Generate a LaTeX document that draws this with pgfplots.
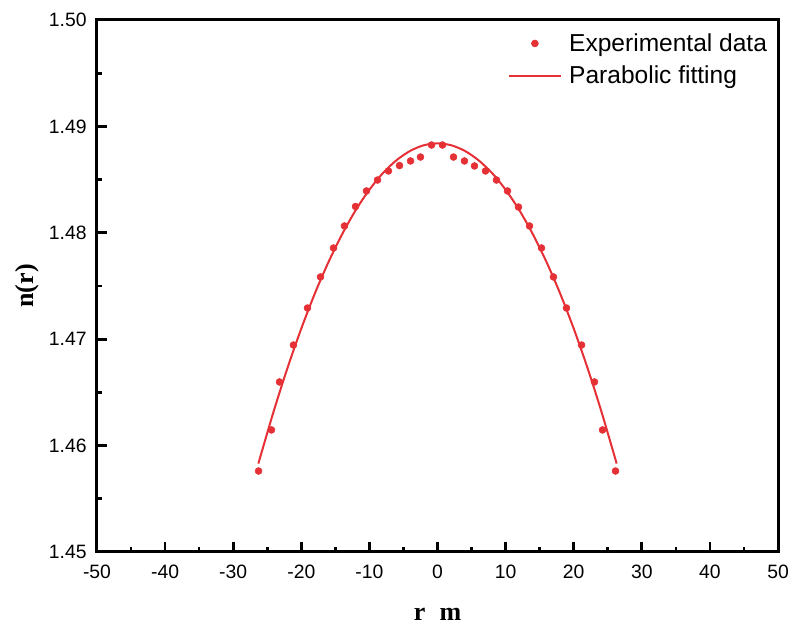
\documentclass[border=0pt]{standalone}
\usepackage{pgfplots}
\pgfplotsset{compat=1.18}
\usepackage{fontspec}
\setmainfont{Liberation Sans}
\newfontfamily\labelfont{Liberation Serif}
\definecolor{datared}{RGB}{229,48,54}

\begin{document}
\begin{tikzpicture}
\begin{axis}[
  name=ax,
  scale only axis,
  width=510.75pt, height=399pt,
  xmin=-50, xmax=50, ymin=1.45, ymax=1.50,
  xtick={-50,-40,...,50},
  ytick={1.45,1.46,...,1.501},
  minor x tick num=1, minor y tick num=1,
  xtick pos=left, ytick pos=left,
  tick align=inside,
  major tick length=7.5pt, minor tick length=3.75pt,
  every tick/.style={black, line width=2pt},
  axis line style={black, line width=2.25pt},
  tick label style={font=\fontsize{14.5}{17}\selectfont},
  /pgf/number format/assume math mode=true,
  yticklabel style={/pgf/number format/.cd, fixed, fixed zerofill, precision=2, /tikz/.cd, xshift=-4.25pt},
  xticklabel style={yshift=-6pt},
  scaled y ticks=false,
  xlabel={\labelfont\bfseries r\hspace{0.55em}m},
  ylabel={\labelfont\bfseries n(r)},
  label style={font=\fontsize{19.5}{22}\selectfont},
  xlabel style={at={(axis description cs:0.5,-0.118)}, anchor=center},
  ylabel style={at={(axis description cs:-0.103,0.5)}, anchor=center},
  legend image code/.code={\draw[mark repeat=2,mark phase=2,#1] plot coordinates {(0pt,0pt) (19.5pt,0pt) (39pt,0pt)};},
  legend style={draw=none, fill=none, at={(rel axis cs:0.992,0.985)}, anchor=north east,
    font=\fontsize{18.4}{22}\selectfont, row sep=5.5pt, inner sep=2pt},
  legend cell align=left,
]
% measured refractive index profile
\addplot[only marks, mark=*, mark size=2.6pt, color=datared] coordinates {
  (-26.28,1.45761) (-24.38,1.46147) (-23.20,1.46598) (-21.15,1.46945)
  (-19.09,1.47293) (-17.18,1.47585) (-15.27,1.47857) (-13.66,1.48064)
  (-12.04,1.48247) (-10.43,1.48393) (-8.81,1.48496) (-7.20,1.48581)
  (-5.58,1.48632) (-3.96,1.48675) (-2.50,1.48712) (-0.88,1.48825)
  (0.73,1.48825) (2.35,1.48712) (3.96,1.48675) (5.43,1.48628)
  (7.05,1.48581) (8.66,1.48496) (10.28,1.48393) (11.89,1.48242)
  (13.51,1.48064) (15.27,1.47857) (17.03,1.47585) (18.94,1.47293)
  (21.15,1.46945) (23.05,1.46598) (24.23,1.46147) (26.14,1.45761)
};
\addlegendentry{\hspace{3.5pt}Experimental data}
% parabolic fit n(r) = n0 - b r^2
\addplot[smooth, no marks, color=datared, line width=1.5pt] coordinates {
  (-26.3,1.45831) (-26,1.45899) (-24,1.46334) (-22,1.46735) (-20,1.47100)
  (-18,1.47431) (-16,1.47726) (-14,1.47987) (-12,1.48214) (-10,1.48405)
  (-8,1.48562) (-6,1.48683) (-4,1.48770) (-2,1.48823) (0,1.48840)
  (2,1.48823) (4,1.48770) (6,1.48683) (8,1.48562) (10,1.48405)
  (12,1.48214) (14,1.47987) (16,1.47726) (18,1.47431) (20,1.47100)
  (22,1.46735) (24,1.46334) (26,1.45899) (26.3,1.45831)
};
\addlegendentry{\hspace{3.5pt}Parabolic fitting}
\end{axis}
\pgfresetboundingbox
\path ([xshift=-72.75pt,yshift=-57.75pt]ax.south west) rectangle ([xshift=9pt,yshift=15pt]ax.north east);
\end{tikzpicture}
\end{document}
